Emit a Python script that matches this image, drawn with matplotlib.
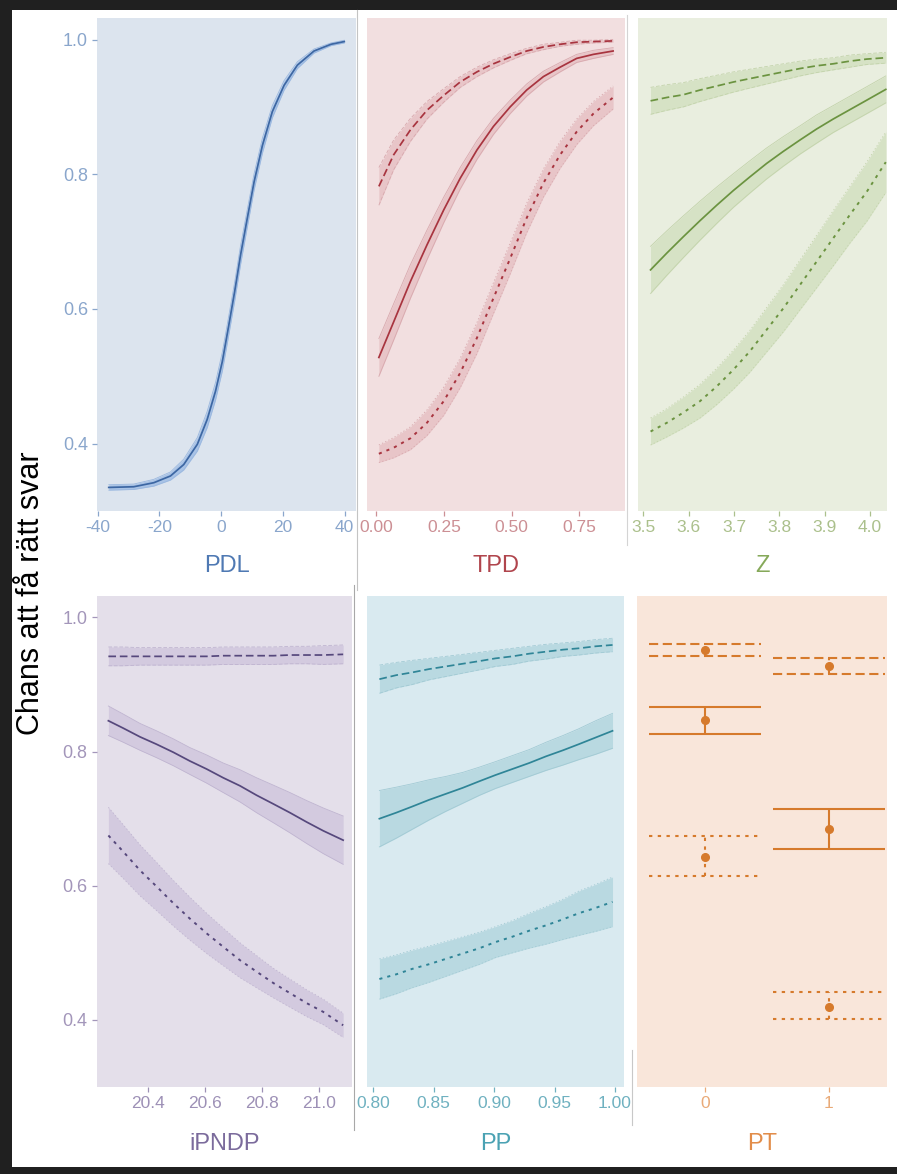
import matplotlib.pyplot as plt
from matplotlib.lines import Line2D
from matplotlib.patches import Rectangle
import numpy as np

plt.rcParams['font.family'] = ['Liberation Sans', 'DejaVu Sans']

y_title = 'Chans att få rätt svar'
y_ticks = [0.4, 0.6, 0.8, 1.0]
y_ticklabels = ['0.4', '0.6', '0.8', '1.0']

# --- PDL (one curve) ---
pdl_x = [-36.4, -28.3, -21.8, -16.4, -12.1, -7.7, -4.5, -1.8, 0.4, 2.5, 4.4,
         6.3, 8.5, 10.7, 13.4, 16.6, 20.4, 24.7, 30.1, 35.6, 39.9]
pdl_y = [0.335, 0.336, 0.342, 0.352, 0.369, 0.399, 0.436, 0.478, 0.522, 0.576, 0.626,
         0.680, 0.735, 0.789, 0.843, 0.893, 0.932, 0.962, 0.983, 0.993, 0.997]
pdl_se = [0.004, 0.004, 0.005, 0.006, 0.008, 0.010, 0.012, 0.013, 0.014, 0.014, 0.014,
          0.014, 0.013, 0.012, 0.011, 0.009, 0.007, 0.005, 0.003, 0.002, 0.002]

# --- TPD ---
tpd_x = [0.009, 0.064, 0.126, 0.187, 0.249, 0.310, 0.372, 0.433, 0.495, 0.556,
         0.618, 0.680, 0.741, 0.803, 0.876]
tpd_dashed = [0.782, 0.829, 0.866, 0.895, 0.917, 0.937, 0.952, 0.964, 0.974, 0.983,
              0.989, 0.993, 0.996, 0.997, 0.998]
tpd_solid = [0.528, 0.581, 0.641, 0.695, 0.747, 0.794, 0.836, 0.871, 0.900, 0.925,
             0.945, 0.959, 0.972, 0.978, 0.983]
tpd_dotted = [0.385, 0.394, 0.408, 0.431, 0.463, 0.505, 0.557, 0.616, 0.675, 0.735,
              0.787, 0.829, 0.863, 0.890, 0.914]
tpd_dashed_se = [0.028, 0.022, 0.017, 0.013, 0.010, 0.008, 0.007, 0.006, 0.005, 0.004,
                 0.004, 0.003, 0.003, 0.002, 0.002]
tpd_solid_se = [0.028, 0.027, 0.025, 0.022, 0.019, 0.016, 0.014, 0.012, 0.010, 0.009,
                0.008, 0.007, 0.006, 0.006, 0.005]
tpd_dotted_se = [0.013, 0.015, 0.017, 0.019, 0.021, 0.022, 0.023, 0.023, 0.023, 0.022,
                 0.021, 0.020, 0.019, 0.018, 0.017]

# --- Z ---
z_x = [3.516, 3.552, 3.588, 3.625, 3.662, 3.699, 3.735, 3.772, 3.809, 3.846,
       3.882, 3.919, 3.956, 3.993, 4.035]
z_dashed = [0.909, 0.914, 0.918, 0.925, 0.931, 0.937, 0.942, 0.947, 0.952, 0.957,
            0.961, 0.964, 0.968, 0.971, 0.973]
z_solid = [0.658, 0.683, 0.707, 0.731, 0.754, 0.776, 0.796, 0.816, 0.834, 0.851,
           0.867, 0.882, 0.896, 0.910, 0.926]
z_dotted = [0.418, 0.431, 0.446, 0.463, 0.485, 0.510, 0.537, 0.569, 0.601, 0.636,
            0.670, 0.705, 0.740, 0.774, 0.818]
z_dashed_se = [0.020, 0.019, 0.018, 0.017, 0.016, 0.015, 0.014, 0.013, 0.012, 0.011,
               0.010, 0.009, 0.009, 0.008, 0.008]
z_solid_se = [0.035, 0.033, 0.031, 0.029, 0.027, 0.025, 0.024, 0.023, 0.022, 0.021,
              0.021, 0.020, 0.020, 0.020, 0.020]
z_dotted_se = [0.020, 0.021, 0.023, 0.025, 0.027, 0.029, 0.031, 0.033, 0.035, 0.037,
               0.039, 0.041, 0.042, 0.044, 0.045]

# --- iPNDP ---
ip_x = [20.26, 20.312, 20.371, 20.429, 20.488, 20.546, 20.605, 20.663, 20.722, 20.780,
        20.839, 20.897, 20.956, 21.014, 21.084]
ip_dashed = [0.942, 0.942, 0.942, 0.942, 0.942, 0.942, 0.942, 0.943, 0.943, 0.943,
             0.943, 0.944, 0.944, 0.944, 0.945]
ip_solid = [0.846, 0.835, 0.822, 0.811, 0.799, 0.786, 0.774, 0.761, 0.749, 0.735,
            0.722, 0.709, 0.695, 0.682, 0.668]
ip_dotted = [0.675, 0.651, 0.623, 0.599, 0.574, 0.551, 0.529, 0.509, 0.489, 0.472,
             0.455, 0.440, 0.425, 0.412, 0.392]
ip_dashed_se = [0.014, 0.014, 0.013, 0.013, 0.013, 0.013, 0.013, 0.013, 0.013, 0.013,
                0.013, 0.013, 0.013, 0.014, 0.014]
ip_solid_se = [0.022, 0.021, 0.020, 0.020, 0.020, 0.020, 0.021, 0.022, 0.024, 0.026,
               0.028, 0.030, 0.032, 0.034, 0.036]
ip_dotted_se = [0.042, 0.040, 0.038, 0.036, 0.034, 0.032, 0.030, 0.028, 0.026, 0.024,
                0.022, 0.021, 0.020, 0.019, 0.018]

# --- PP ---
pp_x = [0.805, 0.819, 0.832, 0.846, 0.860, 0.874, 0.888, 0.901, 0.915, 0.929,
        0.943, 0.957, 0.970, 0.984, 0.998]
pp_dashed = [0.908, 0.914, 0.918, 0.923, 0.927, 0.931, 0.935, 0.939, 0.942, 0.946,
             0.949, 0.952, 0.954, 0.957, 0.959]
pp_solid = [0.700, 0.709, 0.718, 0.728, 0.737, 0.746, 0.756, 0.765, 0.774, 0.783,
            0.793, 0.802, 0.811, 0.821, 0.831]
pp_dotted = [0.461, 0.468, 0.476, 0.483, 0.491, 0.499, 0.507, 0.516, 0.524, 0.533,
             0.541, 0.550, 0.559, 0.567, 0.576]
pp_dashed_se = [0.021, 0.019, 0.018, 0.016, 0.015, 0.014, 0.013, 0.012, 0.012, 0.011,
                0.011, 0.010, 0.010, 0.010, 0.010]
pp_solid_se = [0.042, 0.038, 0.034, 0.030, 0.026, 0.023, 0.021, 0.020, 0.020, 0.020,
               0.021, 0.022, 0.023, 0.025, 0.026]
pp_dotted_se = [0.030, 0.029, 0.028, 0.027, 0.026, 0.025, 0.024, 0.023, 0.024, 0.026,
                0.028, 0.030, 0.033, 0.035, 0.037]

# --- PT (categorical, point + interval) ---
pt_levels = ['0', '1']
pt_dashed_mean = [0.952, 0.928]
pt_dashed_lo = [0.942, 0.915]
pt_dashed_hi = [0.961, 0.940]
pt_solid_mean = [0.847, 0.684]
pt_solid_lo = [0.826, 0.655]
pt_solid_hi = [0.866, 0.714]
pt_dotted_mean = [0.643, 0.420]
pt_dotted_lo = [0.615, 0.401]
pt_dotted_hi = [0.674, 0.441]

W, H = 897, 1174
fig = plt.figure(figsize=(W / 100, H / 100), dpi=100)
fig.patch.set_facecolor('white')

YLIM = (0.30, 1.032)
styles = {'solid': '-', 'dashed': (0, (4.4, 2.2)), 'dotted': (0, (1.6, 2.6))}


def px_axes(l, t, r, b):
    return fig.add_axes([l / W, 1 - b / H, (r - l) / W, (b - t) / H])


def setup(ax, bg, tick_col, xlim, xticks, xlabels, ytick_col=None):
    ax.set_facecolor(bg)
    for sp in ax.spines.values():
        sp.set_visible(False)
    ax.set_xlim(*xlim)
    ax.set_ylim(*YLIM)
    ax.set_xticks(xticks)
    ax.set_xticklabels(xlabels)
    ax.tick_params(axis='x', colors=tick_col, length=3.5, width=0.9, pad=3, labelsize=12.5)
    if ytick_col:
        ax.set_yticks(y_ticks)
        ax.set_yticklabels(y_ticklabels)
        ax.tick_params(axis='y', colors=ytick_col, length=3.5, width=0.9, pad=3, labelsize=13)
    else:
        ax.set_yticks([])


def curve(ax, x, y, se, kind, line_col, rib_col, edge_col):
    x, y, se = np.asarray(x), np.asarray(y), np.asarray(se)
    ax.fill_between(x, y - se, y + se, color=rib_col, lw=0, zorder=1)
    for edge in (y - se, y + se):
        ax.plot(x, edge, ls=styles[kind], color=edge_col, lw=0.6, zorder=2)
    lw = 1.4 if kind == 'dotted' else 1.25
    ax.plot(x, y, ls=styles[kind], color=line_col, lw=lw, zorder=3)


def title(l, r, yc, text, col):
    fig.text((l + r) / 2 / W, 1 - yc / H, text, color=col, fontsize=17,
             ha='center', va='center')


# PDL
ax = px_axes(97, 18, 356, 511)
setup(ax, '#dce4ee', '#8aa6cc', (-40.2, 43.7), [-40, -20, 0, 20, 40],
      ['-40', '-20', '0', '20', '40'], ytick_col='#8aa6cc')
curve(ax, pdl_x, pdl_y, pdl_se, 'solid', '#3d67a3', '#a9c3e6', '#9bb8df')
title(97, 356, 566, 'PDL', '#4f79b3')

# TPD
ax = px_axes(366.7, 18, 625, 511)
setup(ax, '#f2dfe0', '#cc8f94', (-0.036, 0.92), [0, 0.25, 0.5, 0.75],
      ['0.00', '0.25', '0.50', '0.75'])
c = ('#a8343f', '#e8c5c8', '#d8a9ae')
curve(ax, tpd_x, tpd_dashed, tpd_dashed_se, 'dashed', *c)
curve(ax, tpd_x, tpd_solid, tpd_solid_se, 'solid', *c)
curve(ax, tpd_x, tpd_dotted, tpd_dotted_se, 'dotted', *c)
title(366.7, 625, 566, 'TPD', '#b0454d')

# Z
ax = px_axes(638.3, 18, 886.7, 511)
setup(ax, '#e9eedf', '#abc08c', (3.489, 4.037), [3.5, 3.6, 3.7, 3.8, 3.9, 4.0],
      ['3.5', '3.6', '3.7', '3.8', '3.9', '4.0'])
c = ('#6b9340', '#d6e2c5', '#c3d3ab')
curve(ax, z_x, z_dashed, z_dashed_se, 'dashed', *c)
curve(ax, z_x, z_solid, z_solid_se, 'solid', *c)
curve(ax, z_x, z_dotted, z_dotted_se, 'dotted', *c)
title(638.3, 886.7, 566, 'Z', '#86a95a')

# iPNDP
ax = px_axes(96.7, 596, 351.7, 1087)
setup(ax, '#e4dfea', '#9d90b6', (20.219, 21.114), [20.4, 20.6, 20.8, 21.0],
      ['20.4', '20.6', '20.8', '21.0'], ytick_col='#a396ba')
c = ('#56487c', '#d3cadf', '#bfb4d0')
curve(ax, ip_x, ip_dashed, ip_dashed_se, 'dashed', *c)
curve(ax, ip_x, ip_solid, ip_solid_se, 'solid', *c)
curve(ax, ip_x, ip_dotted, ip_dotted_se, 'dotted', *c)
title(96.7, 351.7, 1144, 'iPNDP', '#7b6b9c')

# PP
ax = px_axes(366.7, 596, 624, 1087)
setup(ax, '#d9eaf0', '#6fb1c0', (0.7945, 1.0075), [0.80, 0.85, 0.90, 0.95, 1.00],
      ['0.80', '0.85', '0.90', '0.95', '1.00'])
c = ('#2f8597', '#b9d9e1', '#a2cad4')
curve(ax, pp_x, pp_dashed, pp_dashed_se, 'dashed', *c)
curve(ax, pp_x, pp_solid, pp_solid_se, 'solid', *c)
curve(ax, pp_x, pp_dotted, pp_dotted_se, 'dotted', *c)
title(366.7, 624, 1144, 'PP', '#4ba2b3')

# PT
ax = px_axes(636.7, 596, 887, 1087)
setup(ax, '#f9e6da', '#e9aa78', (-0.55, 1.47), [0, 1], pt_levels)
pt_col = '#d67a2c'
pos = np.arange(len(pt_levels))
for kind, m, lo, hi in [('dashed', pt_dashed_mean, pt_dashed_lo, pt_dashed_hi),
                        ('solid', pt_solid_mean, pt_solid_lo, pt_solid_hi),
                        ('dotted', pt_dotted_mean, pt_dotted_lo, pt_dotted_hi)]:
    ax.hlines(lo, pos - 0.45, pos + 0.45, colors=pt_col, linestyles=styles[kind], lw=1.5)
    ax.hlines(hi, pos - 0.45, pos + 0.45, colors=pt_col, linestyles=styles[kind], lw=1.5)
    ax.vlines(pos, lo, hi, colors=pt_col, linestyles=styles[kind], lw=1.5)
    ax.plot(pos, m, 'o', ms=5.5, color=pt_col, zorder=4)
title(636.7, 887, 1144, 'PT', '#e28d4a')

# y-axis title
fig.text(31 / W, 1 - 593 / H, y_title, rotation=90, fontsize=22, color='black',
         ha='center', va='center')

# thin separators from the screenshot
for x0, y0, y1, col in [(356.5, 10, 590, '#c4c4c4'), (353.5, 585, 1130, '#a8a8a8'),
                        (627, 15, 545, '#d4d4d4'), (632, 1050, 1125, '#c8c8c8')]:
    fig.add_artist(Line2D([x0 / W, x0 / W], [1 - y0 / H, 1 - y1 / H], color=col, lw=0.8))

# dark screenshot frame
for x0, y0, w, h in [(0, 0, W, 10), (0, 0, 12, H), (0, 1167, W, 7)]:
    fig.add_artist(Rectangle((x0 / W, 1 - (y0 + h) / H), w / W, h / H,
                             transform=fig.transFigure, color='#202020', lw=0))

fig.savefig('out.png', dpi=100)
